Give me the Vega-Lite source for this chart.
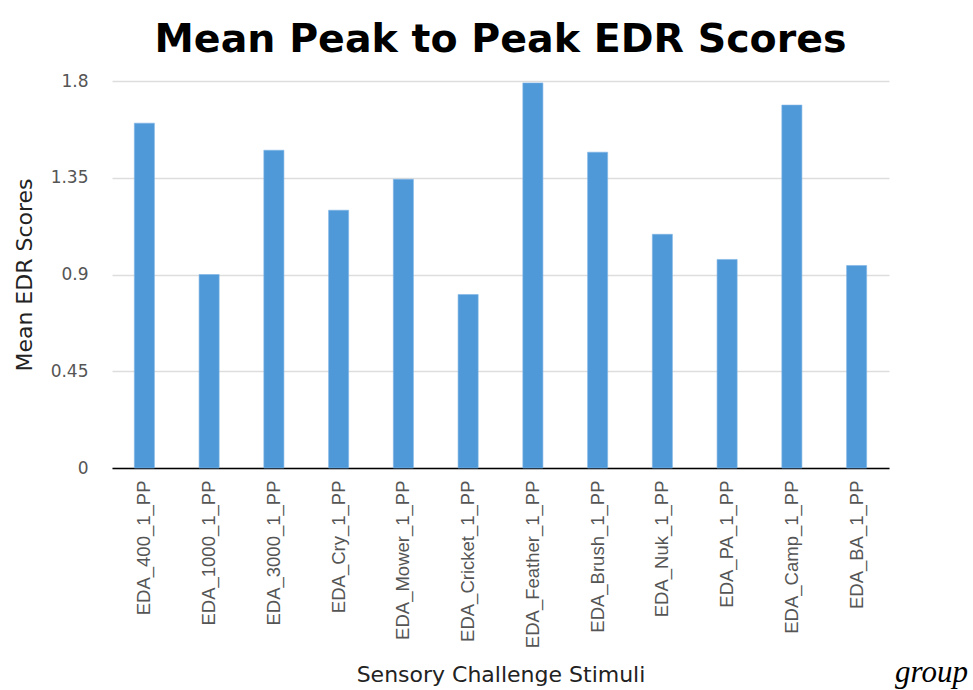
{
  "$schema": "https://vega.github.io/schema/vega-lite/v6.json",
  "width": 777,
  "height": 387,
  "autosize": {"type": "none"},
  "padding": {"left": 112, "top": 81, "right": 84, "bottom": 222},
  "background": "white",
  "config": {"view": {"stroke": null}},
  "title": {
    "text": "Mean Peak to Peak EDR Scores",
    "anchor": "middle",
    "font": "DejaVu Sans",
    "fontWeight": "bold",
    "fontSize": 39.5,
    "color": "#000000",
    "offset": 12
  },
  "data": {
    "values": [
      {"stimulus": "EDA_400_1_PP", "score": 1.604},
      {"stimulus": "EDA_1000_1_PP", "score": 0.900},
      {"stimulus": "EDA_3000_1_PP", "score": 1.478},
      {"stimulus": "EDA_Cry_1_PP", "score": 1.199},
      {"stimulus": "EDA_Mower_1_PP", "score": 1.343},
      {"stimulus": "EDA_Cricket_1_PP", "score": 0.807},
      {"stimulus": "EDA_Feather_1_PP", "score": 1.791},
      {"stimulus": "EDA_Brush_1_PP", "score": 1.469},
      {"stimulus": "EDA_Nuk_1_PP", "score": 1.087},
      {"stimulus": "EDA_PA_1_PP", "score": 0.970},
      {"stimulus": "EDA_Camp_1_PP", "score": 1.688},
      {"stimulus": "EDA_BA_1_PP", "score": 0.942}
    ]
  },
  "mark": {"type": "bar", "stroke": "#7fb6e6", "strokeWidth": 0.6},
  "encoding": {
    "x": {
      "field": "stimulus",
      "type": "nominal",
      "sort": null,
      "scale": {"paddingInner": 0.69, "paddingOuter": 0.345},
      "axis": {
        "title": "Sensory Challenge Stimuli",
        "titleFont": "DejaVu Sans",
        "titleFontSize": 22,
        "titleFontWeight": "normal",
        "titleColor": "#222222",
        "titlePadding": 17,
        "labelAngle": -90,
        "labelFont": "Liberation Sans",
        "labelFontSize": 18.5,
        "labelColor": "#555555",
        "labelPadding": 12,
        "ticks": false,
        "domain": true,
        "domainColor": "#000000",
        "domainWidth": 1.5
      }
    },
    "y": {
      "field": "score",
      "type": "quantitative",
      "scale": {"domain": [0, 1.8], "nice": false},
      "axis": {
        "title": "Mean EDR Scores",
        "titleFont": "DejaVu Sans",
        "titleFontSize": 22,
        "titleFontWeight": "normal",
        "titleColor": "#222222",
        "titlePadding": 14,
        "values": [0, 0.45, 0.9, 1.35, 1.8],
        "labelExpr": "format(datum.value, '.2~f')",
        "labelFont": "DejaVu Sans",
        "labelFontSize": 17,
        "labelColor": "#555555",
        "labelPadding": 24,
        "ticks": false,
        "domain": false,
        "grid": true,
        "gridColor": "#dddddd",
        "gridWidth": 1.5
      }
    },
    "color": {
      "datum": "group",
      "scale": {"range": ["#4f99d9"]},
      "legend": {
        "title": "group",
        "orient": "none",
        "legendX": 783,
        "legendY": 577,
        "titleFont": "Liberation Serif",
        "titleFontStyle": "italic",
        "titleFontWeight": "normal",
        "titleFontSize": 31,
        "titleColor": "#000000",
        "labelExpr": "''",
        "symbolOpacity": 0
      }
    }
  }
}
